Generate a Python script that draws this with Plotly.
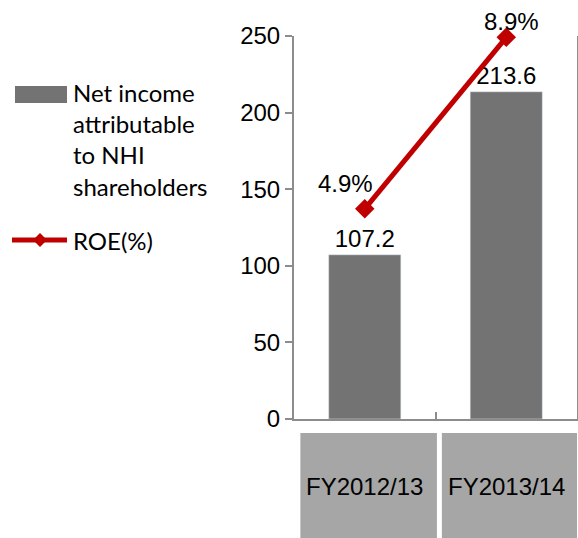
import plotly.graph_objects as go

categories = ["FY2012/13", "FY2013/14"]
net_income = [107.2, 213.6]
roe = [4.9, 8.9]
roe_labels = ["4.9%", "8.9%"]
y_ticks = [0, 50, 100, 150, 200, 250]

L, R, T, B = 294, 1, 36, 119
W, H = 578, 538
pw, ph = W - L - R, H - T - B

def px(x):
    return (x - L) / pw

def py(y):
    return (H - B - y) / ph

AX = "#8c8c8c"
fig = go.Figure()
fig.add_trace(go.Bar(
    x=categories, y=net_income, width=0.51, marker_color="#737373",
    text=[f"{v:.1f}" for v in net_income], textposition="outside",
    textfont=dict(family="Liberation Sans", size=24, color="black"),
    cliponaxis=False, showlegend=False, name="Net income attributable to NHI shareholders"))
fig.add_trace(go.Scatter(
    x=categories, y=roe, yaxis="y2", mode="lines+markers",
    line=dict(color="#c00000", width=5),
    marker=dict(symbol="diamond", size=15, color="#c00000"),
    cliponaxis=False, showlegend=False, name="ROE(%)"))

shifts = [(-19, 25), (5, 16)]
for c, v, t, (dx, dy) in zip(categories, roe, roe_labels, shifts):
    fig.add_annotation(x=c, y=v, yref="y2", text=t, showarrow=False,
                       xshift=dx, yshift=dy,
                       font=dict(family="Liberation Sans", size=24, color="black"))

# category boxes
for i, c in enumerate(categories):
    fig.add_shape(type="rect", xref="x", yref="paper", x0=i - 0.455, x1=i + 0.51,
                  y0=py(540), y1=py(433), fillcolor="#a6a6a6", line_width=0, layer="below")
    fig.add_annotation(x=c, y=py(486), yref="paper", yanchor="middle", xanchor="center",
                       text=c, showarrow=False,
                       font=dict(family="Liberation Sans", size=24, color="black"))

# legend (manual)
fig.add_shape(type="rect", xref="paper", yref="paper", x0=px(15), x1=px(67),
              y0=py(103), y1=py(86), fillcolor="#737373", line_width=0)
fig.add_annotation(x=px(71), y=py(76), xref="paper", yref="paper", xanchor="left", yanchor="top",
                   align="left", showarrow=False,
                   text="Net income<br>attributable<br>to NHI<br>shareholders",
                   font=dict(family="Lato", size=24, color="black"))
fig.add_shape(type="line", xref="paper", yref="paper", x0=px(12), x1=px(67),
              y0=py(240), y1=py(240), line=dict(color="#c00000", width=5))
fig.add_shape(type="path", xref="paper", yref="paper", xsizemode="pixel", ysizemode="pixel",
              xanchor=px(40), yanchor=py(240), path="M-7,0 L0,7 L7,0 L0,-7 Z",
              fillcolor="#c00000", line_width=0)
fig.add_annotation(x=px(71), y=py(240), xref="paper", yref="paper", xanchor="left", yanchor="middle",
                   showarrow=False, text="ROE(%)",
                   font=dict(family="Lato", size=24, color="black"))

fig.update_layout(
    width=W, height=H, margin=dict(l=L, r=R, t=T, b=B),
    plot_bgcolor="white", paper_bgcolor="white",
    xaxis=dict(range=[-0.5, 1.5], showticklabels=False, showline=True, linecolor=AX, linewidth=2,
               ticks="inside", tickson="boundaries", ticklen=7, tickcolor=AX, tickwidth=2,
               showgrid=False, zeroline=False),
    yaxis=dict(range=[0, 250], tickvals=y_ticks, showline=True, linecolor=AX, linewidth=2,
               ticks="outside", ticklen=7, tickcolor=AX, tickwidth=2, showgrid=False, zeroline=False,
               tickfont=dict(family="Liberation Sans", size=24, color="black")),
    yaxis2=dict(range=[0, 8.93], overlaying="y", side="right", showline=True, linecolor=AX,
                linewidth=2, showticklabels=False, ticks="", showgrid=False, zeroline=False),
)
fig.write_html("out.html", config={"displayModeBar": False},
               post_script="document.body.style.margin='0';document.body.style.overflow='hidden';")
